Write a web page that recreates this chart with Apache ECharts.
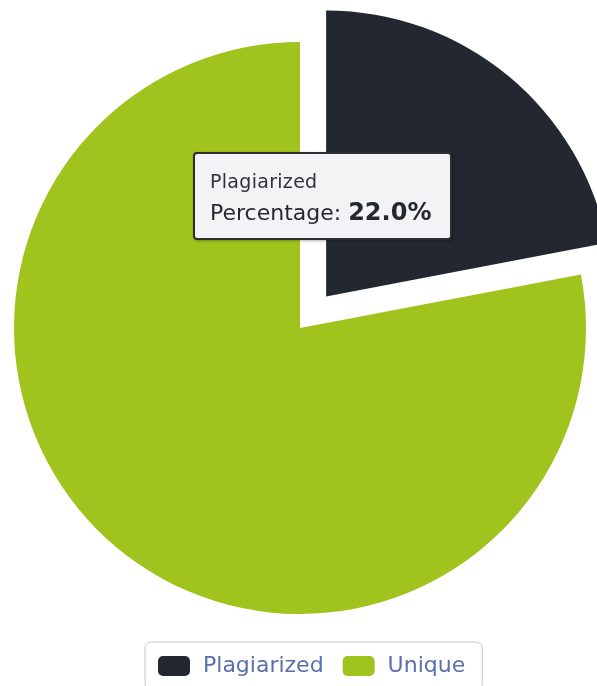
<!DOCTYPE html>
<html>
<head>
<meta charset="utf-8">
<script src="https://cdn.jsdelivr.net/npm/echarts@6/dist/echarts.min.js"></script>
<style>
  html, body { margin: 0; padding: 0; background: #fff; }
  #chart { width: 597px; height: 686px; }
</style>
</head>
<body>
<div id="chart"></div>
<script>
let categories = ['Plagiarized', 'Unique'];
let values = [22, 78];
let colors = ['#23272f', '#a0c41d'];

let pieData = [];
for (let i = 0; i < categories.length; i++) {
    pieData.push({
        name: categories[i],
        value: values[i],
        selected: i === 0,
        itemStyle: { color: colors[i] }
    });
}

let option = {
    animation: false,
    tooltip: {
        trigger: 'item',
        alwaysShowContent: true,
        transitionDuration: 0,
        position: [193, 152],
        backgroundColor: '#f3f3f5',
        borderColor: '#2b2d31',
        borderWidth: 2,
        borderRadius: 4,
        padding: [15, 10, 6, 15],
        extraCssText: 'box-sizing:border-box;width:259px;height:88px;box-shadow:1px 1px 3px rgba(0,0,0,0.3);',
        formatter: function (p) {
            return '<div style="font-family:\'DejaVu Sans\';font-size:19px;line-height:24px;color:#2f3338;letter-spacing:0.3px">' + p.name + '</div>' +
                '<div style="font-family:\'DejaVu Sans\';font-size:22px;line-height:38px;color:#25292f;white-space:nowrap">Percentage: ' +
                '<b style="font-size:24px">' + p.percent.toFixed(1) + '%</b></div>';
        }
    },
    legend: {
        data: categories,
        left: 145,
        top: 642,
        padding: [13, 17, 13, 13],
        itemGap: 19,
        itemWidth: 32,
        itemHeight: 20,
        icon: 'roundRect',
        borderColor: '#c8c8c8',
        borderWidth: 1,
        borderRadius: 6,
        selectedMode: false,
        textStyle: {
            fontFamily: 'DejaVu Sans',
            fontSize: 22,
            color: '#5b6fae',
            padding: [0, 0, 0, 8]
        }
    },
    series: [{
        name: 'Percentage',
        type: 'pie',
        center: [300, 328],
        radius: 286,
        startAngle: 90,
        clockwise: true,
        selectedMode: 'single',
        selectedOffset: 41,
        label: { show: false },
        labelLine: { show: false },
        emphasis: { scale: false, disabled: true },
        data: pieData
    }]
};

let myChart = echarts.init(document.getElementById('chart'));
myChart.setOption(option);
myChart.dispatchAction({ type: 'showTip', seriesIndex: 0, dataIndex: 0 });
</script>
</body>
</html>
